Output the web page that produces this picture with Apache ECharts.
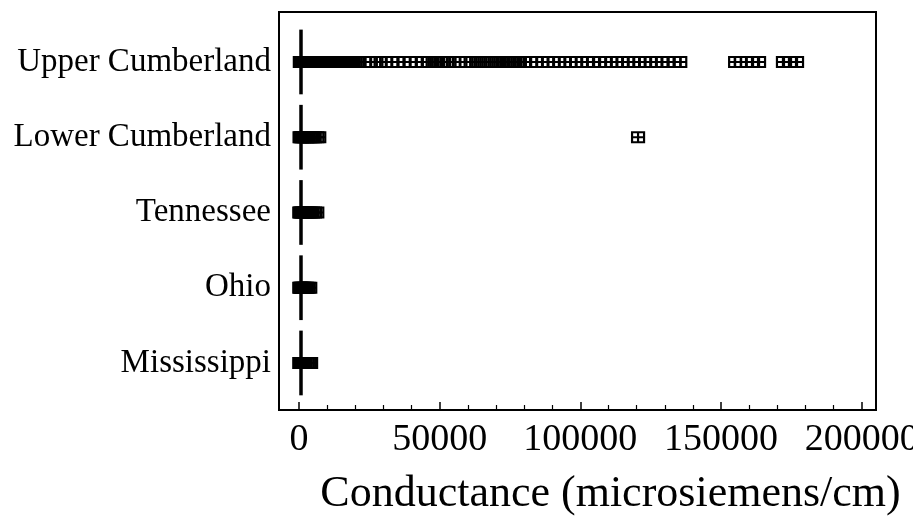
<!DOCTYPE html>
<html>
<head>
<meta charset="utf-8">
<script src="https://cdn.jsdelivr.net/npm/echarts@6/dist/echarts.min.js"></script>
<style>html,body{margin:0;padding:0;background:#fff;}#c{width:913px;height:519px;}</style>
</head>
<body>
<div id="c"></div>
<script>
const categories = ['Upper Cumberland', 'Lower Cumberland', 'Tennessee', 'Ohio', 'Mississippi'];

const upperCumberland = [300, 500, 800, 1000, 1200, 1500, 1800, 2100, 2500, 3000, 3400, 4000, 4500, 5000, 5600, 6200, 7000, 7300, 7600, 8000, 8300, 8700, 9000, 9400, 9800, 10100, 10500, 10900, 11300, 11700, 12000, 12500, 13000, 13500, 14000, 14500, 15000, 15500, 16000, 16500, 17000, 17700, 18500, 19200, 20000, 20700, 21500,
  23500, 25500, 27500, 29000, 31000, 33000, 35000, 37500, 39500, 41500, 44000, 46000, 47500, 49000, 50500, 51500, 52500, 53500, 55000,
  59500, 61000, 63000, 64500, 66000, 68000, 69500, 71000, 72500, 74000, 75500, 77000, 78500, 80000,
  82500, 84500, 86500, 88500, 90500, 92500, 94500, 96500, 98500, 100500, 102500, 104500,
  107000, 109000, 111000, 113000, 115000, 117000, 119000, 121000, 123000, 125000, 127000, 129000, 131000, 133500, 135500,
  155000, 157000, 161000, 163500, 172000, 174500, 177000];
const lowerCumberland = [200, 500, 900, 1300, 1800, 2300, 2800, 3300, 4000, 4800, 5600, 6500, 7200, 120500];
const tennessee = [100, 400, 800, 1200, 1700, 2200, 2800, 3400, 4100, 4900, 5700, 6500];
const ohio = [100, 400, 700, 1000, 1400, 1800, 2300, 2800, 3400, 4000];
const mississippi = [100, 400, 700, 1000, 1400, 1900, 2400, 3000, 3600, 4300];
const referenceValue = 500;

const majorTicks = [0, 50000, 100000, 150000, 200000];
const minorTicks = [10000, 20000, 30000, 40000, 60000, 70000, 80000, 90000, 110000, 120000, 130000, 140000, 160000, 170000, 180000, 190000];

const groups = [upperCumberland, lowerCumberland, tennessee, ohio, mississippi];
const points = [];
groups.forEach((arr, i) => arr.forEach(v => points.push([v, i])));

const refLines = categories.map((c, i) => [
  { coord: [referenceValue, i - 0.43] },
  { coord: [referenceValue, i + 0.43] }
]);

const serif = 'Liberation Serif, Times New Roman, serif';
const chart = echarts.init(document.getElementById('c'), null, { renderer: 'canvas' });
chart.setOption({
  backgroundColor: '#fff',
  animation: false,
  grid: { left: 279, right: 37, top: 12, bottom: 109, show: true, borderColor: '#000', borderWidth: 2, backgroundColor: 'transparent', containLabel: false, outerBoundsMode: 'none' },
  xAxis: [{
    type: 'value', min: -7108, max: 205066, position: 'bottom',
    name: 'Conductance (microsiemens/cm)', nameLocation: 'middle', nameGap: 62,
    nameTextStyle: { fontFamily: serif, fontSize: 44, color: '#000', padding: [0, 0, 0, 66] },
    axisLine: { show: true, onZero: false, lineStyle: { color: '#000', width: 2 } },
    axisTick: { show: true, inside: true, length: 8, lineStyle: { color: '#000', width: 1.5 }, customValues: majorTicks },
    axisLabel: { customValues: majorTicks, formatter: v => String(Math.round(v)), fontFamily: serif, fontSize: 38, color: '#000', margin: 11 },
    splitLine: { show: false }
  }, {
    type: 'value', min: -7108, max: 205066, position: 'bottom', offset: 0,
    axisLine: { show: false, onZero: false },
    axisTick: { show: true, inside: true, length: 5, lineStyle: { color: '#000', width: 1.2 }, customValues: minorTicks },
    axisLabel: { show: false },
    splitLine: { show: false }
  }],
  yAxis: {
    type: 'value', inverse: true, min: -0.664, max: 4.625, position: 'left',
    axisLine: { show: true, onZero: false, lineStyle: { color: '#000', width: 2 } },
    axisTick: { show: false },
    axisLabel: { customValues: [0, 1, 2, 3, 4], formatter: v => categories[Math.round(v)], fontFamily: serif, fontSize: 33, color: '#000', margin: 8 },
    splitLine: { show: false }
  },
  series: [{
    type: 'scatter',
    data: points,
    symbol: 'path://M0,0H10V10H0Z M5,0V10 M0,5H10',
    symbolSize: [12, 10],
    itemStyle: { color: 'rgba(0,0,0,0)', borderColor: '#000', borderWidth: 2, opacity: 1 },
    markLine: {
      silent: true, symbol: 'none', label: { show: false },
      lineStyle: { color: '#000', width: 3.5, type: 'solid' },
      data: refLines
    }
  }]
});
</script>
</body>
</html>
